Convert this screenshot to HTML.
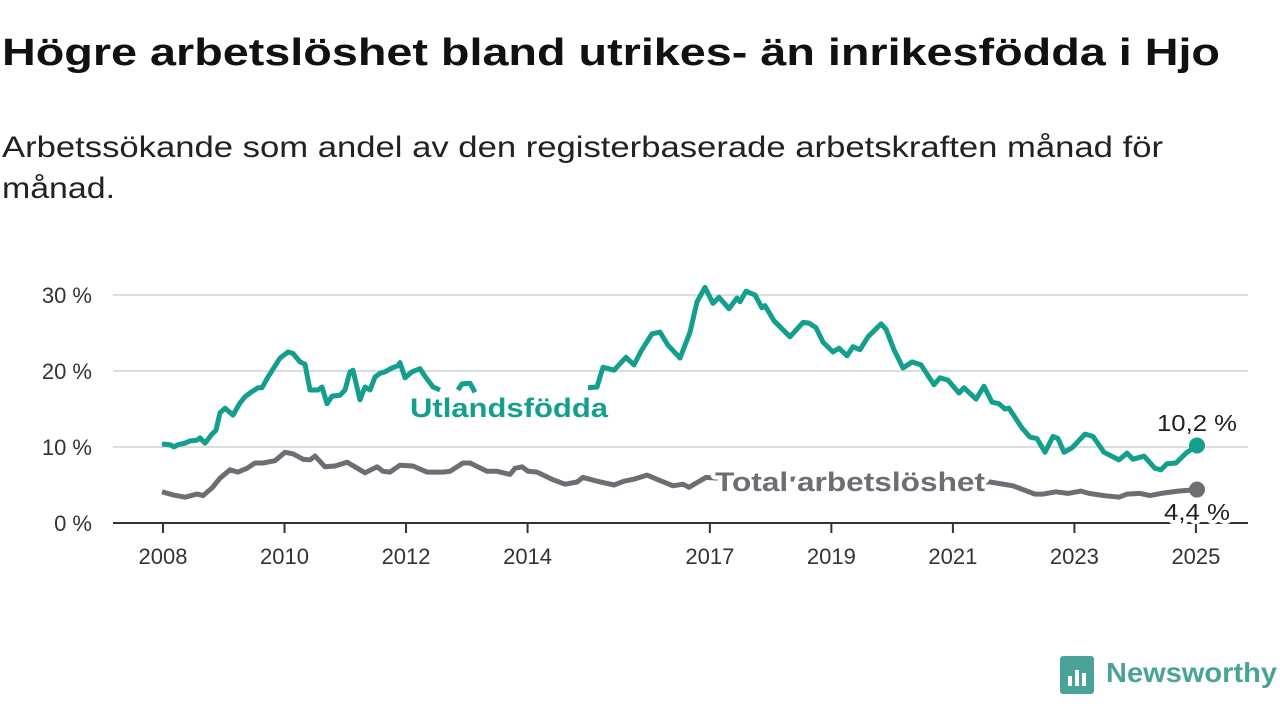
<!DOCTYPE html>
<html><head><meta charset="utf-8">
<style>
body{margin:0;width:1280px;height:720px;background:#fff;overflow:hidden;font-family:"Liberation Sans",sans-serif;}
svg{position:absolute;left:0;top:0}
</style></head>
<body>
<svg width="1280" height="720" id="chart">
<text x="2" y="65" font-size="38" font-weight="bold" fill="#111" textLength="1218" lengthAdjust="spacingAndGlyphs">Högre arbetslöshet bland utrikes- än inrikesfödda i Hjo</text>
<text x="2" y="157" font-size="30" fill="#222" textLength="1161" lengthAdjust="spacingAndGlyphs">Arbetssökande som andel av den registerbaserade arbetskraften månad för</text>
<text x="2" y="198" font-size="30" fill="#222" textLength="113" lengthAdjust="spacingAndGlyphs">månad.</text>
<g id="grid"></g><g id="xaxis"></g><g id="series"></g><g id="labels"></g>
<g>
<rect x="1060" y="656" width="34" height="38" rx="3" fill="#4aa396"/>
<rect x="1068" y="676" width="4" height="10" fill="#fff"/><rect x="1075" y="670" width="4" height="16" fill="#fff"/><rect x="1082" y="673" width="4" height="13" fill="#fff"/>
<text x="1106" y="682" font-size="28" font-weight="bold" fill="#4aa396" textLength="171" lengthAdjust="spacingAndGlyphs">Newsworthy</text>
</g>
</svg>
<script>
const yTicks=[0,10,20,30];
const yTickLabels=["0 %","10 %","20 %","30 %"];
const xTicks=[2008,2010,2012,2014,2017,2019,2021,2023,2025];
const foreignX=[162,170,174,178,185,190,197,200,205,212,216,220,225,233,240,245,250,258,262,268,280,288,293,300,305,310,318,322,327,332,340,345,350,353,360,365,370,375,380,385,392,398,400,405,412,420,425,433,440,446,458,462,470,475,480,588,597,603,614,626,634,641,652,660,668,680,690,697,705,713,719,729,737,740,746,755,762,765,774,790,803,809,816,823,833,839,847,853,860,868,881,886,894,903,912,921,934,940,948,959,964,976,984,992,999,1005,1009,1022,1030,1037,1045,1053,1058,1064,1072,1085,1093,1104,1119,1127,1133,1144,1155,1161,1167,1176,1186,1197];
const foreignV=[10.4,10.3,10.0,10.3,10.5,10.8,10.9,11.2,10.5,11.7,12.2,14.5,15.1,14.2,15.8,16.6,17.1,17.8,17.8,19.2,21.7,22.5,22.3,21.2,20.9,17.5,17.5,17.9,15.7,16.7,16.8,17.5,19.9,20.1,16.2,17.9,17.5,19.2,19.7,19.9,20.4,20.7,21.1,19.1,19.9,20.3,19.3,17.9,17.5,null,17.5,18.3,18.4,17.2,null,17.8,17.9,20.5,20.1,21.8,20.8,22.6,24.9,25.1,23.4,21.7,25.1,29.1,31.0,28.9,29.7,28.2,29.6,29.1,30.5,30.0,28.3,28.6,26.6,24.5,26.4,26.3,25.7,23.8,22.5,23.0,22.0,23.2,22.8,24.5,26.2,25.5,22.8,20.4,21.2,20.8,18.2,19.1,18.8,17.1,17.8,16.3,18.0,15.9,15.7,15.0,15.1,12.5,11.3,11.1,9.3,11.4,11.1,9.3,9.9,11.7,11.4,9.3,8.3,9.2,8.4,8.8,7.2,7.0,7.8,7.9,9.2,10.2];
const totalX=[162,173,185,197,203,212,220,230,238,247,255,263,275,285,293,303,310,315,325,335,347,355,365,377,383,390,400,413,427,443,450,463,470,487,497,510,515,522,528,537,553,565,577,583,597,614,624,635,647,658,673,683,689,698,706,750,800,850,900,950,990,1013,1035,1043,1056,1068,1081,1089,1104,1119,1127,1140,1150,1161,1178,1197];
const totalV=[4.1,3.7,3.4,3.8,3.6,4.6,5.9,7.0,6.7,7.2,7.9,7.9,8.2,9.3,9.1,8.4,8.3,8.8,7.4,7.5,8.0,7.4,6.6,7.4,6.8,6.7,7.6,7.5,6.7,6.7,6.8,7.9,7.9,6.8,6.8,6.4,7.2,7.4,6.8,6.7,5.7,5.1,5.4,6.0,5.5,5.0,5.5,5.8,6.3,5.7,4.9,5.1,4.7,5.4,6.0,5.6,5.8,5.3,5.4,5.5,5.4,4.9,3.8,3.8,4.1,3.9,4.2,3.9,3.6,3.4,3.8,3.9,3.6,3.9,4.2,4.4];
const NS="http://www.w3.org/2000/svg";
const yS=v=>523-v*7.6;
const xYear=y=>163+(y-2008)*60.76;
function mk(tag,attrs,parent){const e=document.createElementNS(NS,tag);for(const k in attrs)e.setAttribute(k,attrs[k]);parent.appendChild(e);return e;}
const grid=document.getElementById('grid');
yTicks.forEach((t,i)=>{
 if(t>0){const l=mk('line',{x1:113,x2:1248,y1:yS(t),y2:yS(t),stroke:'#dcdcdc','stroke-width':2},grid);
 
 }
 const tx=mk('text',{x:92,y:yS(t)+8,'font-size':22,'text-anchor':'end',fill:'#333'},grid);tx.textContent=yTickLabels[i];
 
 
});
const xa=document.getElementById('xaxis');
const base=mk('line',{x1:113,x2:1248,y1:523,y2:523,stroke:'#333','stroke-width':2},xa);


xTicks.forEach(t=>{const x=xYear(t);
 mk('line',{x1:x,x2:x,y1:523,y2:533,stroke:'#333','stroke-width':2},xa);
 const tx=mk('text',{x:x,y:564,'font-size':22,'text-anchor':'middle',fill:'#333'},xa);tx.textContent=t;
 
 
});
function path(xs,vs){let d='',pen=false;xs.forEach((x,i)=>{const v=vs[i];if(v==null){pen=false;return;}d+=(pen?'L':'M')+x+','+yS(v).toFixed(1);pen=true;});return d;}
const s=document.getElementById('series');
const p2=mk('path',{d:path(totalX,totalV),fill:'none',stroke:'#6f6d73','stroke-width':5,'stroke-linejoin':'round'},s);


const p1=mk('path',{d:path(foreignX,foreignV),fill:'none',stroke:'#139e8e','stroke-width':5,'stroke-linejoin':'round'},s);


const d1=mk('circle',{cx:foreignX[foreignX.length-1],cy:yS(foreignV[foreignV.length-1]),r:8,fill:'#139e8e'},s);


const d2=mk('circle',{cx:totalX[totalX.length-1],cy:yS(totalV[totalV.length-1]),r:8,fill:'#6f6d73'},s);


const L=document.getElementById('labels');
function lab(txt,x,y,size,w,col,name,anchor,len){const t=mk('text',{x:x,y:y,'font-size':size,'font-weight':w,fill:col,stroke:'#fff','stroke-width':8,'paint-order':'stroke','stroke-linejoin':'round','text-anchor':anchor||'start',textLength:len,lengthAdjust:'spacingAndGlyphs'},L);t.textContent=txt;
 
 }
lab('Utlandsfödda',410,417,27,'bold','#139e8e','foreign-born-label','start',198);
lab('Total arbetslöshet',715,491,27,'bold','#6f6d73','total-label','start',270);
lab('10,2 %',1197,431,23,'normal','#222','foreign-born-value','middle',80);
lab('4,4 %',1197,520,23,'normal','#222','total-value','middle',66);
</script>
</body></html>
